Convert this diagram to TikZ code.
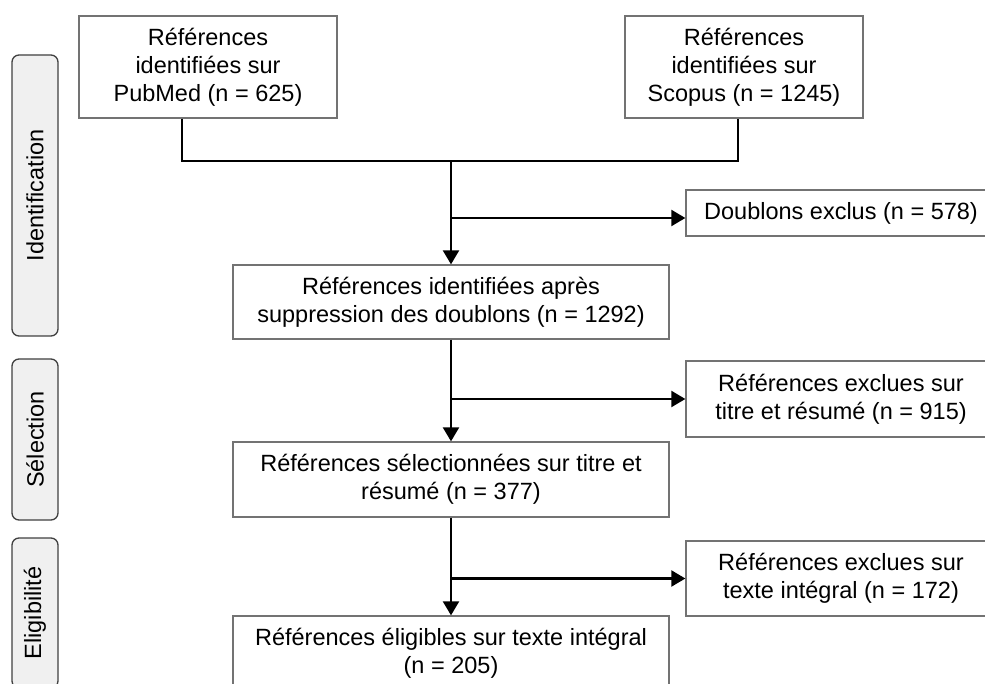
\documentclass[tikz,border=0pt]{standalone}
\usepackage{fontspec}
\setmainfont{Liberation Sans}
\usepackage{tikz}
\usetikzlibrary{arrows.meta,positioning,calc}
\tikzset{
  px/.style={x=1pt, y=1pt, font=\fontsize{23.5}{28}\selectfont},
  p box/.style={draw=black!55, line width=1.3pt, fill=white, align=center, inner sep=0pt},
  p side/.style={draw=black!75, line width=1.3pt, fill=black!6, rounded corners=7pt, rotate=90, inner sep=0pt, minimum height=46pt},
  p line/.style={line width=2.2pt, black},
  p arr/.style={p line, -{Triangle[length=14pt, width=16pt]}},
}

\begin{document}
\begin{tikzpicture}[px]
\useasboundingbox (0,0) rectangle (985,-684);
% ---- phases ----
\node[p side, minimum width=281pt] (ph1) at (35,-195.5) {Identification};
\node[p side, minimum width=161pt] (ph2) at (35,-439.5) {Sélection};
\node[p side, minimum width=150pt] (ph3) at (35,-613) {Eligibilité};
% ---- sources ----
\node[p box, minimum width=258pt, minimum height=102pt] (pub) at (208,-67) {Références\\identifiées sur\\PubMed (n = 625)};
\node[p box, minimum width=238pt, minimum height=102pt] (sco) at (744,-67) {Références\\identifiées sur\\Scopus (n = 1245)};
% ---- main column ----
\node[p box, minimum width=436pt, minimum height=74pt] (m1) at (451,-302) {Références identifiées après\\suppression des doublons (n = 1292)};
\node[p box, minimum width=436pt, minimum height=75pt] (m2) at (451,-479.5) {Références sélectionnées sur titre et\\résumé (n = 377)};
\node[p box, minimum width=436pt, minimum height=75pt] (m3) at (451,-653.5) {Références éligibles sur texte intégral\\(n = 205)};
% ---- exclusions ----
\node[p box, minimum width=310pt, minimum height=46pt] (ex0) at (841,-213) {Doublons exclus (n = 578)};
\node[p box, minimum width=310pt, minimum height=76pt] (ex1) at (841,-399) {Références exclues sur\\titre et résumé (n = 915)};
\node[p box, minimum width=310pt, minimum height=75pt] (ex2) at (841,-578.5) {Références exclues sur\\texte intégral (n = 172)};
% ---- connectors ----
\coordinate (mj) at (451,-161);
\coordinate (b0) at (451,-218);
\coordinate (b1) at (451,-399);
\coordinate (b2) at (451,-578.5);
\draw[p line] (pub.-117) |- (mj) -| (sco.-97);
\draw[p arr] (mj) -- (m1.north);
\draw[p arr] (b0) -- (b0 -| ex0.west);
\draw[p arr] (m1) -- (m2);
\draw[p arr] (b1) -- (b1 -| ex1.west);
\draw[p arr] (m2) -- (m3);
\draw[p arr] (b2) -- (b2 -| ex2.west);
\end{tikzpicture}
\end{document}
